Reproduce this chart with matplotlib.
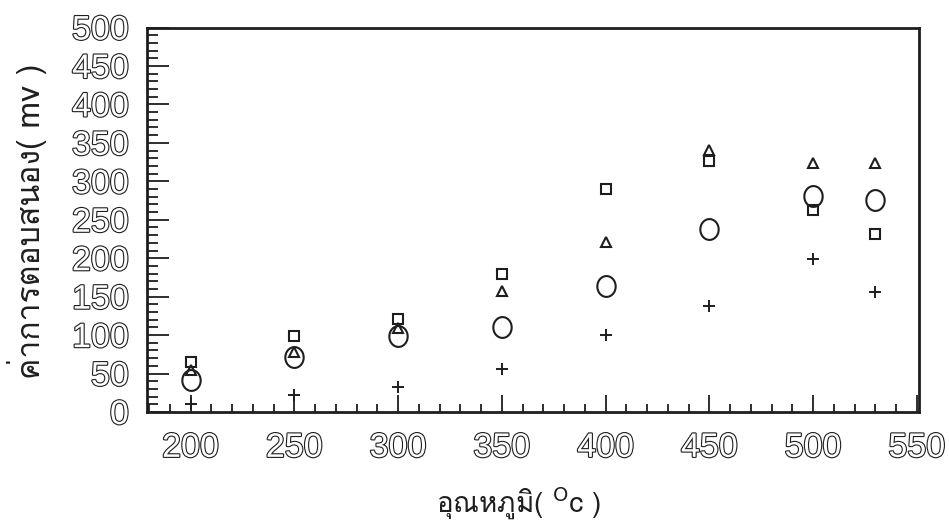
import matplotlib
matplotlib.use("Agg")
import matplotlib.pyplot as plt
import matplotlib.patheffects as pe
import numpy as np
from matplotlib.path import Path
from matplotlib.ticker import MultipleLocator

# ---- data ----
temperature = [200, 250, 300, 350, 400, 450, 500, 530]
series_square = [65, 99, 121, 179, 290, 327, 263, 231]
series_triangle = [54, 78, 109, 158, 221, 341, 324, 324]
series_circle = [42, 72, 99, 111, 164, 238, 281, 276]
series_plus = [10, 22, 32, 56, 100, 138, 199, 156]

x_ticks = [200, 250, 300, 350, 400, 450, 500, 550]
y_ticks = [0, 50, 100, 150, 200, 250, 300, 350, 400, 450, 500]

xlabel = "อุณหภูมิ( $^{\\rm O}$c )"
ylabel = "ค่าการตอบสนอง( mv )"

ink = "#1e1e1e"
thai_font = ["Loma", "DejaVu Sans"]
num_font = ["Liberation Sans Narrow", "Liberation Sans", "DejaVu Sans"]

# slightly tall ellipse marker for the circles
theta = np.linspace(0, 2 * np.pi, 60)
ellipse = Path(np.column_stack([0.44 * np.cos(theta), 0.5 * np.sin(theta)]), closed=True)

fig = plt.figure(figsize=(9.49, 5.24), dpi=100)
ax = fig.add_axes([0.1549, 0.2137, 0.8135, 0.7338])

kw = dict(linestyle="none", markerfacecolor="none", markeredgecolor=ink, clip_on=False)
ax.plot(temperature, series_square, marker="s", markersize=6.5, markeredgewidth=1.5, **kw)
ax.plot(temperature, series_triangle, marker="^", markersize=6.5, markeredgewidth=1.5, **kw)
ax.plot(temperature, series_circle, marker=ellipse, markersize=15, markeredgewidth=1.5, **kw)
ax.plot(temperature, series_plus, marker="+", markersize=9, markeredgewidth=1.4, **kw)

ax.set_xlim(179, 551)
ax.set_ylim(0, 500)
ax.set_xticks(x_ticks)
ax.set_yticks(y_ticks)
ax.xaxis.set_minor_locator(MultipleLocator(10))
ax.yaxis.set_minor_locator(MultipleLocator(10))

for s in ax.spines.values():
    s.set_linewidth(2.0)
    s.set_color(ink)

ax.tick_params(which="both", direction="in", top=False, right=False, color=ink)
ax.tick_params(axis="y", which="major", length=16, width=1.3, pad=13)
ax.tick_params(axis="y", which="minor", length=8, width=1.3)
ax.tick_params(axis="x", which="major", length=12, width=1.3, pad=15)
ax.tick_params(axis="x", which="minor", length=6, width=1.3)

outline = [pe.Stroke(linewidth=1.6, foreground=ink), pe.Normal()]
for lab in ax.get_xticklabels() + ax.get_yticklabels():
    lab.set_family(num_font)
    lab.set_fontsize(24.5)
    lab.set_color("white")
    lab.set_path_effects(outline)

fig.text(0.546, 0.022, xlabel, family=thai_font, fontsize=20, color=ink,
         ha="center", va="baseline")
fig.text(0.028, 0.578, ylabel, family=thai_font, fontsize=23, color=ink,
         ha="center", va="center", rotation=90)

fig.savefig("out.png", dpi=100, facecolor="white")
